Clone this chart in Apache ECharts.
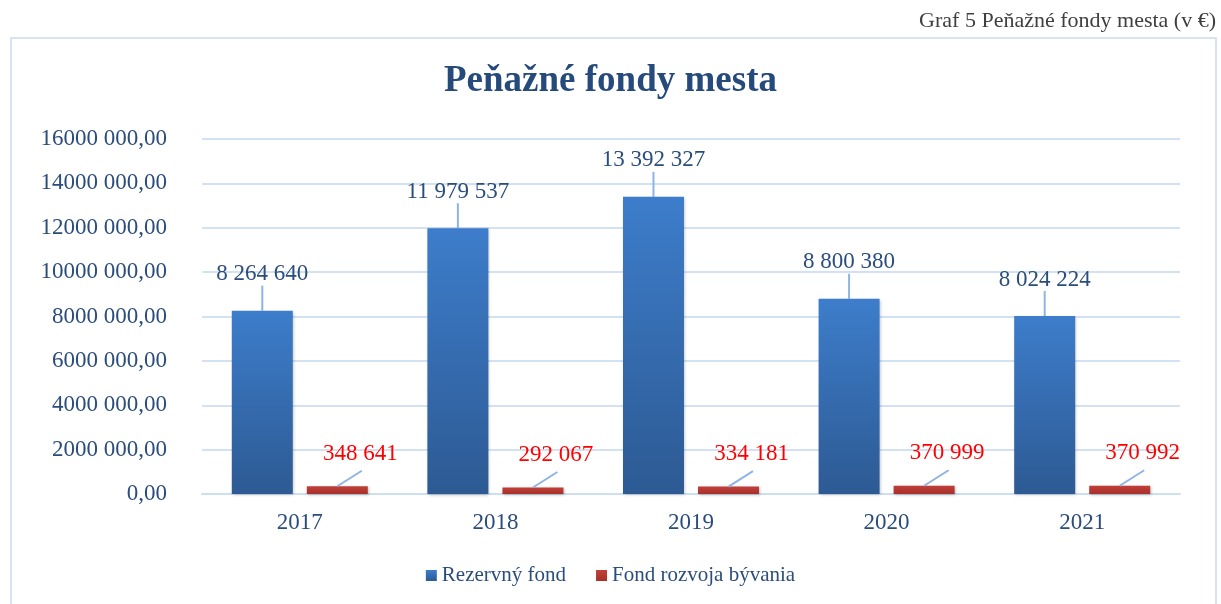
<!DOCTYPE html>
<html>
<head>
<meta charset="utf-8">
<script src="https://cdn.jsdelivr.net/npm/echarts@6/dist/echarts.min.js"></script>
<style>
html,body{margin:0;padding:0;background:#fff;}
#c{width:1221px;height:604px;}
</style>
</head>
<body>
<div id="c"></div>
<script>
var categories = ['2017', '2018', '2019', '2020', '2021'];
var rezervnyFond = [8264640, 11979537, 13392327, 8800380, 8024224];
var fondRozvoja = [348641, 292067, 334181, 370999, 370992];
var seriesNames = ['Rezervný fond', 'Fond rozvoja bývania'];

var serif = '"Liberation Serif", "DejaVu Serif", serif';
var textBlue = '#2a4d7c';
var leaderColor = '#8fb4e3';

function fmtSpace(v) {
  return String(Math.round(v)).replace(/\B(?=(\d{3})+(?!\d))/g, ' ');
}
function fmtAxis(v) {
  if (v === 0) return '0,00';
  return (v / 1000) + ' 000,00';
}

var chart = echarts.init(document.getElementById('c'));
chart.setOption({
  backgroundColor: '#fff',
  animation: false,
  title: [{
    text: 'Peňažné fondy mesta',
    left: 'center',
    top: 58,
    textStyle: {fontFamily: serif, fontSize: 37, fontWeight: 'bold', color: '#254a7b'}
  }],
  graphic: [
    {type: 'rect', shape: {x: 11, y: 38, width: 1205, height: 580}, style: {fill: 'none', stroke: '#d6e3f2', lineWidth: 2}, silent: true},
    {type: 'text', right: 5, top: 10, style: {text: 'Graf 5 Peňažné fondy mesta (v €)', font: '22px ' + serif, fill: '#404040'}}
  ],
  legend: {
    data: seriesNames,
    bottom: 13,
    left: 'center',
    itemWidth: 11,
    itemHeight: 11,
    itemGap: 30,
    icon: 'rect',
    textStyle: {fontFamily: serif, fontSize: 21, color: textBlue}
  },
  grid: {left: 202, right: 41, top: 139, bottom: 110},
  xAxis: {
    type: 'category',
    data: categories,
    axisTick: {show: false},
    axisLine: {lineStyle: {color: '#cddff2', width: 2}},
    axisLabel: {fontFamily: serif, fontSize: 23, color: textBlue, margin: 17}
  },
  yAxis: {
    type: 'value',
    min: 0, max: 16000000, interval: 2000000,
    axisLine: {show: false},
    axisTick: {show: false},
    splitLine: {lineStyle: {color: '#d3e2f3', width: 2}},
    axisLabel: {fontFamily: serif, fontSize: 23, color: textBlue, margin: 35, formatter: fmtAxis}
  },
  series: [
    {
      name: seriesNames[0],
      type: 'bar',
      data: rezervnyFond,
      barWidth: 61,
      barGap: '23%',
      itemStyle: {
        color: new echarts.graphic.LinearGradient(0, 0, 0, 1, [
          {offset: 0, color: '#3d7dcb'},
          {offset: 1, color: '#2d5a93'}
        ]),
        shadowColor: 'rgba(0,0,0,0.25)', shadowBlur: 3, shadowOffsetX: 1, shadowOffsetY: 1
      },
      label: {
        show: true, position: 'top', distance: 5,
        fontFamily: serif, fontSize: 23, color: textBlue,
        formatter: function (p) { return fmtSpace(p.value); }
      },
      labelLayout: {dy: -20},
      labelLine: {show: true, lineStyle: {color: leaderColor, width: 2}}
    },
    {
      name: seriesNames[1],
      type: 'bar',
      data: fondRozvoja,
      barWidth: 61,
      itemStyle: {
        color: new echarts.graphic.LinearGradient(0, 0, 0, 1, [
          {offset: 0, color: '#c0403a'},
          {offset: 1, color: '#a83029'}
        ]),
        shadowColor: 'rgba(0,0,0,0.25)', shadowBlur: 3, shadowOffsetX: 1, shadowOffsetY: 1
      },
      label: {
        show: true, position: 'top', distance: 5,
        fontFamily: serif, fontSize: 23, color: '#ff0000',
        formatter: function (p) { return fmtSpace(p.value); }
      },
      labelLayout: {dx: 23, dy: -16}
    },
    {
      name: 'leader',
      type: 'custom',
      silent: true,
      z: 3,
      data: categories.map(function (c, i) { return [i, fondRozvoja[i]]; }),
      encode: {x: 0, y: 1},
      renderItem: function (params, api) {
        var pt = api.coord([api.value(0), api.value(1)]);
        var x0 = pt[0] + 37.5, y0 = pt[1];
        return {
          type: 'line',
          shape: {x1: x0, y1: y0, x2: x0 + 24.5, y2: y0 - 15.5},
          style: {stroke: leaderColor, lineWidth: 2}
        };
      }
    }
  ]
});
</script>
</body>
</html>
